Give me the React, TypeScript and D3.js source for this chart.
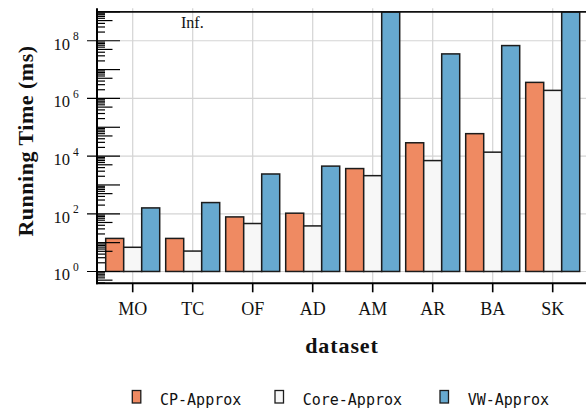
import React from "react";
import * as d3 from "d3";

const categories = ["MO", "TC", "OF", "AD", "AM", "AR", "BA", "SK"];
const seriesNames = ["CP-Approx", "Core-Approx", "VW-Approx"];
const cpApprox = [14, 14, 78, 105, 3700, 29000, 60000, 3.6e6];
const coreApprox = [6.9, 5.1, 46, 38, 2100, 7000, 13700, 1.9e6];
const vwApprox = [160, 245, 2400, 4500, Infinity, 3.5e7, 6.8e7, Infinity];
const seriesValues = [cpApprox, coreApprox, vwApprox];
const colors = ["#ef8a62", "#f7f7f7", "#67a9cf"];
const majorTicks = [1, 1e2, 1e4, 1e6, 1e8];
const majorExponents = ["0", "2", "4", "6", "8"];
const infValue = 1e9;

const W = 586;
const H = 410;
const left = 97;
const right = 590;
const top = 8.3;
const bottom = 283.3;

export default function App() {
  const x = d3.scaleBand<string>().domain(categories).range([102.7, 582.7]).paddingInner(0).paddingOuter(0);
  const y = d3.scaleLog().domain([Math.pow(10, -0.41), Math.pow(10, 9.125)]).range([bottom, top]);
  const sub = d3.scaleBand<number>().domain([0, 1, 2]).range([3, 57]);
  const base = y(1);

  const minorTicks: { v: number; len: number; outer: boolean }[] = [];
  const [d0, d1] = y.domain();
  for (let n = -1; n <= 9; n++) {
    for (let k = 1; k <= 9; k++) {
      const v = k * Math.pow(10, n);
      if (v < d0 || v > d1) continue;
      const len = k === 1 ? 23 : k === 5 ? 15.5 : 8;
      minorTicks.push({ v, len, outer: k === 1 && n % 2 === 0 && n >= 0 && n <= 8 });
    }
  }

  const serif = "'Liberation Serif', 'DejaVu Serif', serif";
  const mono = "'DejaVu Sans Mono', monospace";
  const legendX = [132.3, 275, 440];

  return (
    <svg width={W} height={H} style={{ position: "absolute", left: 0, top: 0 }}>
      <rect width={W} height={H} fill="#fff" />
      {/* grid */}
      {majorTicks.map((t) => (
        <line key={"hg" + t} x1={left} x2={right} y1={y(t)} y2={y(t)} stroke="#d4d4d4" strokeWidth={1.2} />
      ))}
      {categories.map((c) => (
        <line key={"vg" + c} x1={x(c)! + 30} x2={x(c)! + 30} y1={top} y2={bottom} stroke="#d4d4d4" strokeWidth={1.2} />
      ))}
      {/* bars */}
      {seriesValues.map((vals, si) =>
        vals.map((v, ci) => {
          const val = isFinite(v) ? v : infValue;
          const yt = y(val);
          return (
            <rect
              key={si + "-" + ci}
              x={x(categories[ci])! + sub(si)!}
              y={yt}
              width={sub.bandwidth()}
              height={base - yt}
              fill={colors[si]}
              stroke="#1c1c1c"
              strokeWidth={1.5}
            />
          );
        })
      )}
      {/* inf line */}
      <line x1={left} x2={right} y1={y(infValue)} y2={y(infValue)} stroke="#111" strokeWidth={1.6} />
      <text x={181} y={27.6} fontFamily={serif} fontSize={16} fill="#111">Inf.</text>
      {/* y ticks */}
      {minorTicks.map((t, i) => (
        <line
          key={"mt" + i}
          x1={t.outer ? left - 10 : left}
          x2={left + t.len}
          y1={y(t.v)}
          y2={y(t.v)}
          stroke="#000"
          strokeWidth={1.2}
        />
      ))}
      {majorTicks.map((t, i) => (
        <g key={"yl" + t}>
          <text x={70} y={y(t) + 9} textAnchor="end" fontFamily={serif} fontSize={16.5} fill="#111">10</text>
          <text x={73} y={y(t) - 0.5} fontFamily={serif} fontSize={11.5} fill="#111">{majorExponents[i]}</text>
        </g>
      ))}
      {/* x ticks */}
      {categories.map((c) => (
        <g key={"xt" + c}>
          <line x1={x(c)! + 30} x2={x(c)! + 30} y1={bottom} y2={bottom + 9} stroke="#000" strokeWidth={1.6} />
          <text x={x(c)! + 30} y={315} textAnchor="middle" fontFamily={serif} fontSize={18} fill="#111">{c}</text>
        </g>
      ))}
      {/* spines */}
      <line x1={left} x2={left} y1={top} y2={bottom + 1} stroke="#000" strokeWidth={2} />
      <line x1={left - 1} x2={right} y1={bottom} y2={bottom} stroke="#000" strokeWidth={2} />
      {/* axis labels */}
      <text x={342} y={353} textAnchor="middle" fontFamily={serif} fontWeight="bold" fontSize={22} letterSpacing={0.9} fill="#111">dataset</text>
      <text transform="translate(33,141) rotate(-90)" textAnchor="middle" fontFamily={serif} fontWeight="bold" fontSize={22} letterSpacing={0.5} fill="#111">Running Time (ms)</text>
      {/* legend */}
      {seriesNames.map((s, i) => (
        <g key={"lg" + s}>
          <rect x={legendX[i]} y={390.5} width={8.5} height={12.5} fill={colors[i]} stroke="#1c1c1c" strokeWidth={1.3} />
          <text x={legendX[i] + 27.7} y={404.5} fontFamily={mono} fontSize={15} fill="#111">{s}</text>
        </g>
      ))}
    </svg>
  );
}
